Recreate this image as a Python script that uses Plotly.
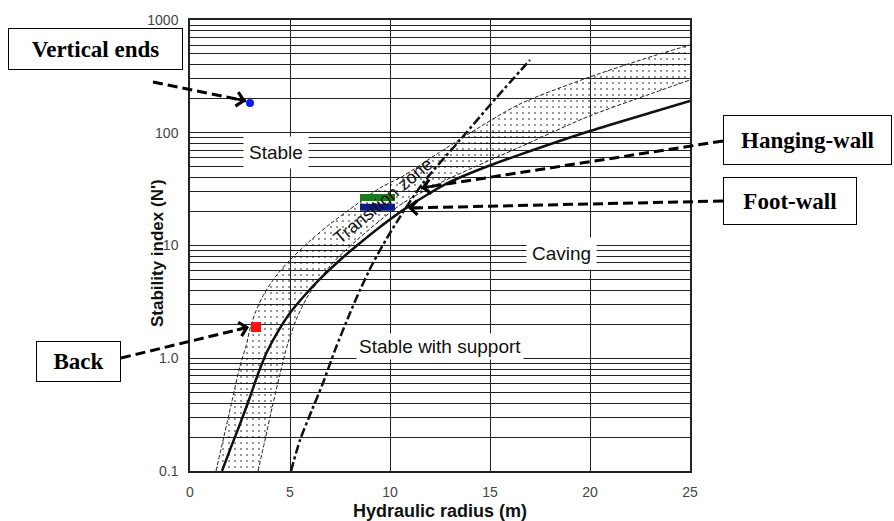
import math
import plotly.graph_objects as go

# ---------------- data ----------------
# Transition zone: upper (left) boundary
upper_radius = [1.30, 1.70, 2.10, 2.50, 2.80, 3.00, 3.30, 3.70, 4.30, 5.00, 6.00, 7.00, 8.35, 9.50, 10.65, 12.35, 14.0, 16.5, 19.85, 23.15, 25.0]
upper_n = [0.1, 0.204, 0.418, 0.854, 1.28, 1.82, 2.63, 3.71, 5.36, 7.44, 11.0, 15.5, 23.3, 32.4, 41.3, 64.8, 99.5, 180.0, 306.0, 479.0, 600.0]
# Transition zone: lower (right) boundary
lower_radius = [3.40, 3.75, 4.10, 4.50, 4.90, 5.35, 5.90, 7.00, 8.35, 10.65, 12.5, 14.0, 16.5, 19.85, 23.15, 25.0]
lower_n = [0.1, 0.188, 0.362, 0.725, 1.37, 2.28, 3.57, 6.58, 11.2, 23.8, 35.8, 47.7, 74.7, 137.9, 225.1, 293.7]
# Solid caving line
caving_radius = [1.60, 2.05, 2.50, 3.00, 3.40, 3.85, 4.35, 5.00, 5.75, 6.50, 7.50, 8.35, 9.50, 10.65, 12.0, 13.0, 14.85, 16.5, 20.0, 23.15, 25.0]
caving_n = [0.1, 0.163, 0.261, 0.453, 0.725, 1.14, 1.67, 2.52, 3.64, 5.05, 7.44, 10.0, 14.6, 20.6, 29.2, 36.6, 50.2, 64.0, 103.6, 152.8, 191.2]
# Dash-dot "stable with support" line
support_radius = [5.05, 5.50, 6.10, 6.65, 7.25, 8.00, 8.50, 9.15, 10.15, 11.65, 13.5, 15.35, 17.0]
support_n = [0.1, 0.188, 0.348, 0.603, 1.18, 2.52, 4.03, 7.00, 14.3, 35.8, 86.2, 207.6, 441.8]

# Case points
ends_radius = [3.0]
ends_n = [183.6]
back_radius = [3.3]
back_n = [1.89]
hanging_radius = [8.5, 10.25]
hanging_n = [26.7, 26.7]
foot_radius = [8.5, 10.25]
foot_n = [21.8, 21.8]

x_ticks = [0, 5, 10, 15, 20, 25]
y_decades = [0.1, 1, 10, 100, 1000]
y_decade_labels = ["0.1", "1.0", "10", "100", "1000"]

# ---------------- figure ----------------
PL, PR, PT, PB = 190, 690, 20, 471  # plot box in pixels


def px(xp):
    return (xp - PL) / (PR - PL)


def py(yp):
    return (PB - yp) / (PB - PT)


fig = go.Figure()

curve_line = dict(shape="spline", smoothing=0.8)
fig.add_trace(go.Scatter(x=upper_radius, y=upper_n, mode="lines",
                         line=dict(color="#222", width=1, dash="4px,2px", **curve_line)))
fig.add_trace(go.Scatter(x=lower_radius, y=lower_n, mode="lines", fill="tonexty",
                         fillcolor="rgba(0,0,0,0)",
                         fillpattern=dict(shape=".", size=6, solidity=0.1, fgcolor="#000",
                                          bgcolor="rgba(255,255,255,0)"),
                         line=dict(color="#222", width=1, dash="4px,2px", **curve_line)))
fig.add_trace(go.Scatter(x=caving_radius, y=caving_n, mode="lines",
                         line=dict(color="#111", width=2.5, **curve_line)))
fig.add_trace(go.Scatter(x=support_radius, y=support_n, mode="lines",
                         line=dict(color="#111", width=2.5, dash="9px,3px,3px,3px", **curve_line)))

fig.add_trace(go.Scatter(x=hanging_radius, y=hanging_n, mode="lines",
                         line=dict(color="#1c7c1c", width=7)))
fig.add_trace(go.Scatter(x=foot_radius, y=foot_n, mode="lines",
                         line=dict(color="#0c1a8a", width=7)))
fig.add_trace(go.Scatter(x=ends_radius, y=ends_n, mode="markers",
                         marker=dict(color="#0a1aff", size=8)))
fig.add_trace(go.Scatter(x=back_radius, y=back_n, mode="markers",
                         marker=dict(color="#ff1010", size=10, symbol="square")))

minor_vals = []
minor_text = []
for k in range(-1, 3):
    for m in range(1, 10):
        v = m * 10 ** k
        minor_vals.append(v)
        minor_text.append(y_decade_labels[y_decades.index(v)] if v in y_decades else "")
minor_vals.append(1000)
minor_text.append("1000")

fig.update_xaxes(range=[0, 25], tickvals=x_ticks, ticktext=[str(t) for t in x_ticks],
                 showgrid=True, gridcolor="#222", gridwidth=1.2, zeroline=False,
                 showline=True, linecolor="#222", linewidth=1.5, mirror=True,
                 ticks="", ticklabelstandoff=7,
                 tickfont=dict(family="Liberation Sans, Arial", size=14, color="#444"))
fig.update_yaxes(type="log", range=[-1, 3], tickvals=minor_vals, ticktext=minor_text,
                 showgrid=True, gridcolor="#222", gridwidth=1, zeroline=False,
                 showline=True, linecolor="#222", linewidth=1.5, mirror=True,
                 ticks="", ticklabelstandoff=7,
                 tickfont=dict(family="Liberation Sans, Arial", size=14, color="#444"))

annotations = []
# axis titles
annotations.append(dict(text="<b>Hydraulic radius (m)</b>", xref="paper", yref="paper",
                        x=px(440), y=py(511), showarrow=False, xanchor="center", yanchor="middle",
                        font=dict(family="Liberation Sans, Arial", size=18, color="#111")))
annotations.append(dict(text="<b>Stability index (N')</b>", xref="paper", yref="paper",
                        x=px(157), y=py(253), showarrow=False, xanchor="center", yanchor="middle",
                        textangle=-90,
                        font=dict(family="Liberation Sans, Arial", size=17, color="#111")))

# zone labels (data coords; log axis uses log10)
zone_font = dict(family="Liberation Sans, Arial", size=19, color="#111")
annotations.append(dict(text="Stable", x=4.3, y=math.log10(67.5), showarrow=False,
                        bgcolor="white", borderpad=5, font=zone_font))
annotations.append(dict(text="Caving", x=18.55, y=math.log10(8.58), showarrow=False,
                        bgcolor="white", borderpad=5, font=zone_font))
annotations.append(dict(text="Stable with support", x=12.5, y=math.log10(1.26), showarrow=False,
                        bgcolor="white", borderpad=2, font=zone_font))
annotations.append(dict(text="Transition zone", x=9.65, y=math.log10(24.8), showarrow=False,
                        textangle=-40, font=dict(family="Liberation Sans, Arial", size=18, color="#111")))

# boxed labels
box_font = dict(family="Liberation Serif, Times New Roman", size=23, color="#000")


def box(text, cx, cy, w, h):
    annotations.append(dict(text="<b>%s</b>" % text, xref="paper", yref="paper",
                            x=px(cx), y=py(cy), showarrow=False, xanchor="center", yanchor="middle",
                            width=w, height=h, bgcolor="white", bordercolor="#000", borderwidth=1,
                            borderpad=0, font=box_font))


box("Vertical ends", 95.5, 49, 173, 40)
box("Back", 78.5, 361, 83, 39)
box("Hanging-wall", 807.5, 140, 167, 48)
box("Foot-wall", 790, 201, 132, 46)

shapes = []


def dashed_arrow(x0, y0, x1, y1):
    shapes.append(dict(type="line", xref="paper", yref="paper",
                       x0=px(x0), y0=py(y0), x1=px(x1), y1=py(y1),
                       line=dict(color="#000", width=3, dash="10px,5px")))
    d = math.hypot(x1 - x0, y1 - y0)
    ux, uy = (x1 - x0) / d, (y1 - y0) / d
    annotations.append(dict(text="", xref="paper", yref="paper", x=px(x1), y=py(y1),
                            showarrow=True, arrowhead=4, arrowsize=1.1, arrowwidth=2.5,
                            arrowcolor="#000", ax=-ux * 14, ay=-uy * 14))


dashed_arrow(153, 82, 246, 101)
dashed_arrow(121, 358, 249, 327)
dashed_arrow(723, 141, 421, 188)
dashed_arrow(723, 201, 408, 208)

fig.update_layout(width=894, height=521, margin=dict(l=PL, r=894 - PR, t=PT, b=521 - PB),
                  paper_bgcolor="white", plot_bgcolor="white", showlegend=False,
                  annotations=annotations, shapes=shapes)

fig.write_html("out.html", config={"displayModeBar": False},
               post_script="document.body.style.margin='0px';")
